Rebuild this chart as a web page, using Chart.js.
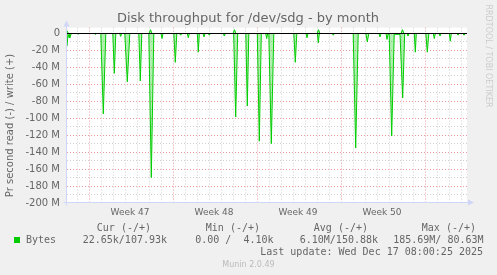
<!DOCTYPE html>
<html>
<head>
<meta charset="utf-8">
<title>Disk throughput for /dev/sdg - by month</title>
<script src="https://cdn.jsdelivr.net/npm/chart.js@4/dist/chart.umd.min.js"></script>
<style>
  html, body { margin: 0; padding: 0; background: #f0f0f0; }
  canvas { display: block; }
</style>
</head>
<body>
<canvas id="diskChart" width="497" height="275"></canvas>
<script>
// hours from the left edge of the graph, values in M bytes per second
const readHours = [0, 2, 4, 5, 6, 8, 10, 21, 22.6, 24, 55, 56, 57,
  67.6, 72.6, 77.6, 91.6, 94.6, 97.6, 105.4, 107.4, 109.4, 115.6, 120.6, 125.6,
  143.6, 146.6, 149.6, 163.6, 168.6, 173.6, 188, 190, 192, 213.6, 216.6, 219.6,
  225.4, 227.4, 229.4, 240.6, 242.6, 244.6, 260.6, 262.6, 264.6, 272, 274, 276,
  282.6, 284.6, 286.6, 312.6, 314.6, 316.6, 333.4, 337.4, 341.4, 357.6, 360.6, 363.6,
  380.6, 384.6, 388.6, 397.4, 399.4, 401.4, 403.6, 408.6, 413.6, 453.6, 456.6, 459.6,
  478, 480, 482, 500.6, 502.6, 504.6, 530.6, 532.6, 534.6, 572.4, 577.4, 582.4,
  597.6, 600.6, 603.6, 624, 626, 628, 638, 640, 642, 644.4, 649.4, 654.4,
  666, 667.4, 671.4, 675.4, 680, 682, 684, 694.6, 696.6, 698.6, 717.6, 720.6, 723.6,
  732.6, 734.6, 736.6, 744, 746, 748, 764.6, 766.6, 768.6, 780, 782, 784, 792, 794, 796, 800];
const readMB = [-15, -1, -5, -1, -5, -0.5, 0, 0, -1, 0, 0, -1, 0,
  0, -95, 0, 0, -47, 0, 0, -3.5, 0, 0, -57, 0,
  0, -56, 0, 0, -170, 0, 0, -6, 0, 0, -34, 0,
  0, -2, 0, 0, -5, 0, 0, -22, 0, 0, -4, 0,
  0, -2, 0, 0, -3, 0, 0, -98.5, 0, 0, -85.5, 0,
  0, -127, 0, 0, -6, 0, 0, -130, 0, 0, -34, 0,
  0, -5, 0, 0, -11, 0, 0, -2, 0, 0, -135, 0,
  0, -10, 0, 0, -4, 0, 0, -7, -1, -1, -121, -1,
  -1, -1, -76, 0, 0, -3, 0, 0, -22, 0, 0, -22, 0,
  0, -6, 0, 0, -3, 0, 0, -9, 0, 0, -2, 0, 0, -2, 0, 0];
const writeHours = [0, 3, 164, 167, 170, 332, 335, 338, 500, 503, 506, 668, 671, 674, 800];
const writeMB = [3, 0, 0, 4.5, 0, 0, 4.5, 0, 0, 4.5, 0, 0, 4.5, 0, 0];

const yTicks = [0, -20, -40, -60, -80, -100, -120, -140, -160, -180, -200];
const weekStartHours = [44, 212, 380, 548, 716];
const weekLabels = ['Week 47', 'Week 48', 'Week 49', 'Week 50'];

const legendHeaders = ['Cur (-/+)', 'Min (-/+)', 'Avg (-/+)', 'Max (-/+)'];
const legendValues = ['22.65k/107.93k', '0.00 /  4.10k', '6.10M/150.88k', '185.69M/ 80.63M'];
const seriesName = 'Bytes';
const lastUpdate = 'Last update: Wed Dec 17 08:00:25 2025';

const GREEN = '#00cc00';
const FONT_COLOR = '#666666';
const AXIS_COLOR = '#cfd6f8';

function points(xs, ys) {
    return xs.map((x, i) => ({ x: x, y: ys[i] }));
}

// rrdtool look: canvas, dotted grid, zero rule, arrows and the text block
const rrdPlugin = {
    id: 'rrd',
    beforeDraw(chart) {
        const { ctx, chartArea: a } = chart;
        ctx.save();
        ctx.fillStyle = '#f0f0f0';
        ctx.fillRect(0, 0, chart.width, chart.height);
        ctx.fillStyle = '#ffffff';
        ctx.fillRect(a.left, a.top, a.right - a.left, a.bottom - a.top);
        ctx.restore();
    },
    beforeDatasetsDraw(chart) {
        const { ctx, chartArea: a, scales: { x, y } } = chart;
        ctx.save();
        ctx.lineWidth = 1;
        ctx.setLineDash([1, 2]);
        // horizontal grid, minor every 10 M, major every 20 M
        for (let v = -190; v < 0; v += 10) {
            const py = Math.floor(y.getPixelForValue(v)) + 0.5;
            ctx.strokeStyle = v % 20 === 0 ? 'rgba(230,110,110,0.7)' : 'rgba(150,150,150,0.45)';
            ctx.beginPath();
            ctx.moveTo(a.left, py);
            ctx.lineTo(a.right, py);
            ctx.stroke();
        }
        // vertical grid, day lines grey, week starts red
        for (let h = weekStartHours[0] % 24; h <= x.max; h += 24) {
            const px = Math.floor(x.getPixelForValue(h)) + 0.5;
            ctx.strokeStyle = weekStartHours.includes(h) ? 'rgba(230,110,110,0.7)' : 'rgba(150,150,150,0.45)';
            ctx.beginPath();
            ctx.moveTo(px, a.top);
            ctx.lineTo(px, a.bottom);
            ctx.stroke();
        }
        ctx.restore();
    },
    afterDatasetsDraw(chart) {
        const { ctx, chartArea: a, scales: { x, y } } = chart;
        ctx.save();
        // zero rule
        const y0 = Math.floor(y.getPixelForValue(0)) + 0.5;
        ctx.strokeStyle = '#000000';
        ctx.lineWidth = 1;
        ctx.beginPath();
        ctx.moveTo(a.left, y0);
        ctx.lineTo(a.right, y0);
        ctx.stroke();

        // axes with arrows
        const ax = Math.floor(a.left) - 0.5;
        const ay = Math.floor(a.bottom) - 0.5;
        ctx.strokeStyle = AXIS_COLOR;
        ctx.fillStyle = AXIS_COLOR;
        ctx.beginPath();
        ctx.moveTo(ax, ay + 3);
        ctx.lineTo(ax, a.top - 2);
        ctx.moveTo(ax - 3, ay);
        ctx.lineTo(a.right + 2, ay);
        ctx.stroke();
        ctx.beginPath();
        ctx.moveTo(ax, a.top - 7);
        ctx.lineTo(ax - 3, a.top - 1);
        ctx.lineTo(ax + 3, a.top - 1);
        ctx.closePath();
        ctx.fill();
        ctx.beginPath();
        ctx.moveTo(a.right + 7, ay);
        ctx.lineTo(a.right + 1, ay - 3);
        ctx.lineTo(a.right + 1, ay + 3);
        ctx.closePath();
        ctx.fill();

        // week labels between week starts
        ctx.fillStyle = FONT_COLOR;
        ctx.font = '9px "DejaVu Sans"';
        ctx.textAlign = 'center';
        ctx.textBaseline = 'middle';
        weekLabels.forEach((lbl, i) => {
            const mid = (weekStartHours[i] + weekStartHours[i + 1]) / 2;
            ctx.fillText(lbl, x.getPixelForValue(mid) - 1, 212.5);
        });

        // title
        ctx.font = '13px "DejaVu Sans"';
        ctx.fillText('Disk throughput for /dev/sdg - by month', 248, 19);

        // vertical axis title
        ctx.save();
        ctx.translate(10.5, 125.5);
        ctx.rotate(-Math.PI / 2);
        ctx.font = '10px "DejaVu Sans"';
        ctx.fillText('Pr second read (-) / write (+)', 0, 0);
        ctx.restore();

        // watermark on the right
        ctx.save();
        ctx.translate(488, 56);
        ctx.rotate(Math.PI / 2);
        ctx.fillStyle = '#cccccc';
        ctx.font = '8px "DejaVu Sans"';
        ctx.fillText('RRDTOOL / TOBI OETIKER', 0, 0);
        ctx.restore();

        // legend block
        ctx.font = '10px "DejaVu Sans Mono"';
        ctx.textAlign = 'right';
        const headerRight = [151, 260, 368, 476];
        const valueRight = [167, 273.5, 378, 483.5];
        legendHeaders.forEach((t, i) => ctx.fillText(t, headerRight[i], 228));
        legendValues.forEach((t, i) => ctx.fillText(t, valueRight[i], 240));
        ctx.fillText(lastUpdate, 483, 252);
        ctx.textAlign = 'left';
        ctx.fillText(seriesName, 26, 240);
        ctx.fillStyle = GREEN;
        ctx.fillRect(14, 237, 6, 6);

        ctx.fillStyle = '#bbbbbb';
        ctx.font = '8px "DejaVu Sans"';
        ctx.textAlign = 'center';
        ctx.fillText('Munin 2.0.49', 248.5, 264.5);
        ctx.restore();
    }
};

new Chart(document.getElementById('diskChart'), {
    type: 'line',
    data: {
        datasets: [{
            label: 'read',
            data: points(readHours, readMB),
            borderColor: GREEN,
            backgroundColor: 'rgba(0,204,0,0.3)',
            fill: 'origin',
            borderWidth: 1,
            pointRadius: 0,
            tension: 0
        }, {
            label: 'write',
            data: points(writeHours, writeMB),
            borderColor: GREEN,
            backgroundColor: 'rgba(0,204,0,0.3)',
            fill: 'origin',
            borderWidth: 1,
            pointRadius: 0,
            tension: 0
        }]
    },
    options: {
        responsive: false,
        animation: false,
        events: [],
        layout: { padding: { left: 0, top: 27.57, right: 30, bottom: 72 } },
        plugins: {
            legend: { display: false },
            tooltip: { enabled: false },
            title: { display: false }
        },
        scales: {
            x: {
                type: 'linear',
                min: 0,
                max: 800,
                grid: { display: false, drawTicks: false },
                border: { display: false },
                ticks: { display: false },
                afterFit: s => { s.height = 0; }
            },
            y: {
                min: -200,
                max: 7,
                grid: { display: false, drawTicks: false },
                border: { display: false },
                afterBuildTicks: s => { s.ticks = yTicks.map(v => ({ value: v })); },
                afterFit: s => { s.width = 67; },
                ticks: {
                    padding: 7,
                    color: FONT_COLOR,
                    font: { family: 'DejaVu Sans', size: 10 },
                    callback: v => v === 0 ? '0' : v + ' M'
                }
            }
        }
    },
    plugins: [rrdPlugin]
});
</script>
</body>
</html>
